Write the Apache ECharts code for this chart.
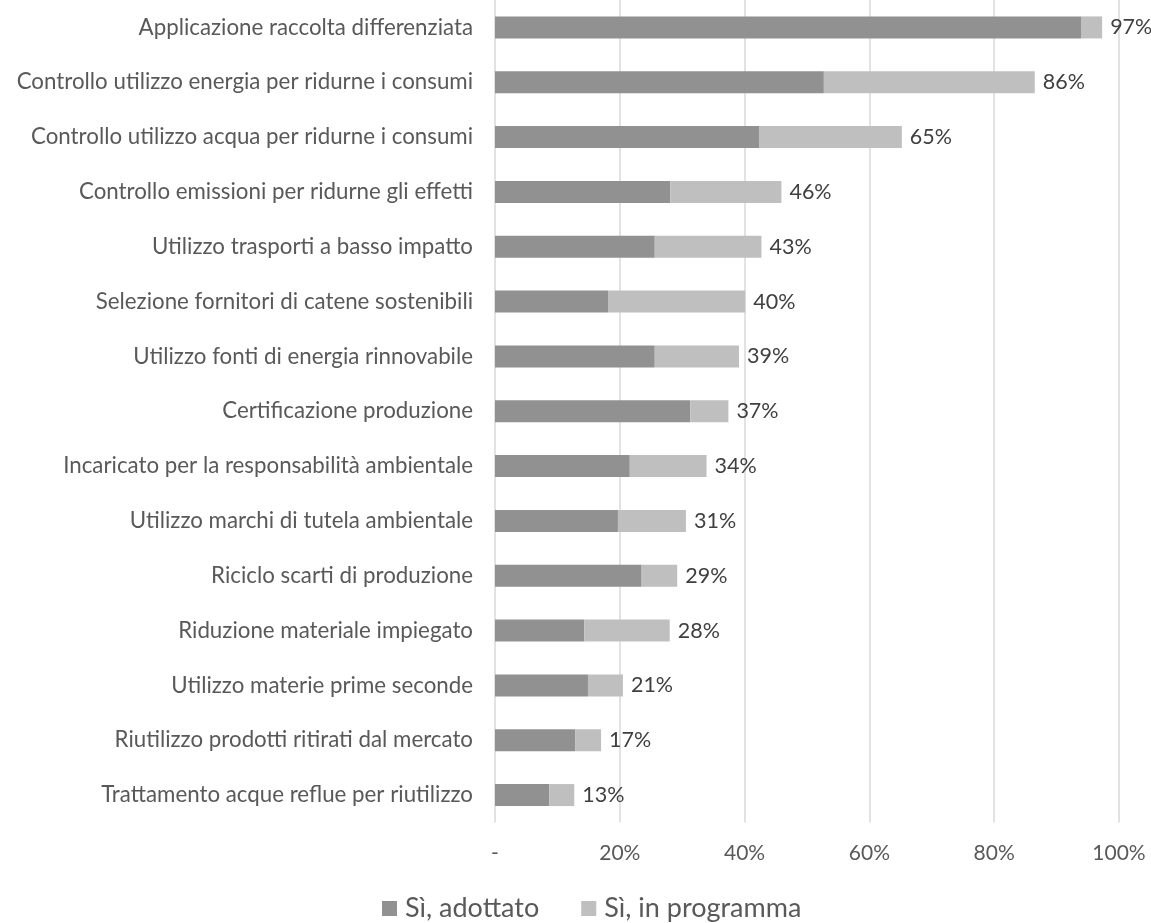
<!DOCTYPE html>
<html>
<head>
<meta charset="utf-8">
<script src="https://cdn.jsdelivr.net/npm/echarts@6/dist/echarts.min.js"></script>
<style>
html,body{margin:0;padding:0;background:#fff;}
#chart{width:1151px;height:923px;}
</style>
</head>
<body>
<div id="chart"></div>
<script>
const categories = [
  "Applicazione raccolta differenziata",
  "Controllo utilizzo energia per ridurne i consumi",
  "Controllo utilizzo acqua per ridurne i consumi",
  "Controllo emissioni per ridurne gli effetti",
  "Utilizzo trasporti a basso impatto",
  "Selezione fornitori di catene sostenibili",
  "Utilizzo fonti di energia rinnovabile",
  "Certificazione produzione",
  "Incaricato per la responsabilità ambientale",
  "Utilizzo marchi di tutela ambientale",
  "Riciclo scarti di produzione",
  "Riduzione materiale impiegato",
  "Utilizzo materie prime seconde",
  "Riutilizzo prodotti ritirati dal mercato",
  "Trattamento acque reflue per riutilizzo"
];
const adottato = [94.0, 52.7, 42.4, 28.1, 25.6, 18.2, 25.6, 31.3, 21.6, 19.7, 23.5, 14.3, 14.9, 12.9, 8.7];
const inProgramma = [3.3, 33.8, 22.8, 17.8, 17.1, 21.9, 13.5, 6.1, 12.3, 10.9, 5.7, 13.7, 5.6, 4.1, 4.0];
const totalLabels = ["97%", "86%", "65%", "46%", "43%", "40%", "39%", "37%", "34%", "31%", "29%", "28%", "21%", "17%", "13%"];
const xTicks = [0, 20, 40, 60, 80, 100];
const seriesNames = ["Sì, adottato", "Sì, in programma"];

const FONT = "Lato, 'Open Sans', sans-serif";
const chart = echarts.init(document.getElementById('chart'));
chart.setOption({
  animation: false,
  backgroundColor: '#ffffff',
  textStyle: { fontFamily: FONT },
  grid: { left: 495, right: 32, top: -8.5, bottom: 100.5, containLabel: false },
  legend: {
    data: seriesNames,
    top: 890,
    left: 377,
    itemWidth: 15,
    itemHeight: 15,
    itemGap: 42,
    icon: 'rect',
    textStyle: { color: '#595959', fontSize: 27, fontFamily: FONT, padding: [0, 0, 0, 3] }
  },
  xAxis: {
    type: 'value',
    min: xTicks[0],
    max: xTicks[xTicks.length - 1],
    interval: 20,
    axisLine: { show: false },
    axisTick: { show: false },
    splitLine: { show: true, lineStyle: { color: '#d9d9d9', width: 1.5 } },
    axisLabel: {
      margin: 20,
      color: '#595959',
      fontSize: 21,
      fontFamily: FONT,
      formatter: v => v === 0 ? '-' : v + '%'
    }
  },
  yAxis: {
    type: 'category',
    inverse: true,
    data: categories,
    axisLine: { show: false },
    axisTick: { show: false },
    splitLine: { show: false },
    axisLabel: { margin: 22, color: '#595959', fontSize: 22.3, fontFamily: FONT }
  },
  series: [
    {
      name: seriesNames[0],
      type: 'bar',
      stack: 'tot',
      barWidth: 22,
      itemStyle: { color: '#919191' },
      data: adottato
    },
    {
      name: seriesNames[1],
      type: 'bar',
      stack: 'tot',
      barWidth: 22,
      itemStyle: { color: '#bfbfbf' },
      label: {
        show: true,
        position: 'right',
        distance: 8,
        color: '#404040',
        fontSize: 21.5,
        fontFamily: FONT,
        formatter: p => totalLabels[p.dataIndex]
      },
      data: inProgramma
    }
  ]
});
</script>
</body>
</html>
